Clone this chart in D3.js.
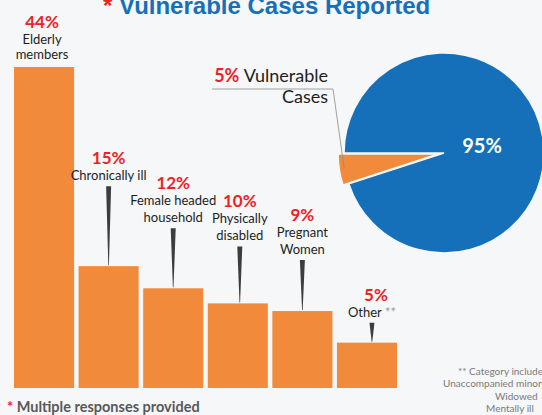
<!DOCTYPE html>
<html>
<head>
<meta charset="utf-8">
<script src="https://cdn.jsdelivr.net/npm/d3@7"></script>
<style>
  body { margin: 0; background: #f5f7f8; overflow: hidden; }
  text { font-family: Lato, "Open Sans", sans-serif; }
</style>
</head>
<body>
<script>
// data
const categories = ["Elderly members", "Chronically ill", "Female headed household", "Physically disabled", "Pregnant Women", "Other"];
const labelLines = [["Elderly", "members"], ["Chronically ill"], ["Female headed", "household"], ["Physically", "disabled"], ["Pregnant", "Women"], ["Other"]];
const values = [44, 15, 12, 10, 9, 5];
const pieNames = ["Not vulnerable", "Vulnerable Cases"];
const pieValues = [95, 5];
const notes = ["** Category includes", "Unaccompanied minors,", "Widowed", "Mentally ill"];

// callout layout (pointer length above each bar, horizontal nudge)
const calloutLen = [0, 80, 60, 57, 51, 20];
const calloutDx = [-2, 0, 0, 2, 0, 5];

const width = 542, height = 415;
const orange = "#f28a3c", blue = "#1570b9", red = "#ec2227";

const svg = d3.select("body").append("svg")
  .attr("width", width)
  .attr("height", height);

svg.append("rect").attr("width", width).attr("height", height).attr("fill", "#f5f7f8");

// title
const title = svg.append("text")
  .attr("x", 103).attr("y", 14)
  .style("font-family", "'Liberation Sans', Arial, sans-serif")
  .style("font-weight", "bold").style("font-size", "24px");
title.append("tspan").attr("fill", red).text("* ");
title.append("tspan").attr("fill", blue).text("Vulnerable Cases Reported");

// scales
const x = d3.scaleBand().domain(categories).range([14, 397]).paddingInner(0.07);
const y = d3.scalePow().exponent(0.9).domain([0, 44]).range([388, 67]);

// bars
svg.append("g").selectAll("rect")
  .data(values)
  .join("rect")
  .attr("x", (d, i) => x(categories[i]))
  .attr("y", d => y(d))
  .attr("width", x.bandwidth())
  .attr("height", d => y(0) - y(d))
  .attr("fill", orange);

// callouts
values.forEach((v, i) => {
  const cx = x(categories[i]) + x.bandwidth() / 2 + calloutDx[i];
  const top = y(v);
  const st = top - calloutLen[i];
  const g = svg.append("g");
  if (calloutLen[i] > 0) {
    g.append("path")
      .attr("d", `M${cx - 2.5},${st} L${cx + 2.5},${st} L${cx + 0.3},${top - 1} L${cx - 0.3},${top - 1} Z`)
      .attr("fill", "#3d3d3f");
  }
  const lines = labelLines[i];
  const gap = calloutLen[i] > 0 ? 6 : 8;
  const spacing = calloutLen[i] > 0 ? 17 : 15;
  const lastY = st - gap;
  lines.forEach((l, j) => {
    const t = g.append("text")
      .attr("x", cx)
      .attr("y", lastY - (lines.length - 1 - j) * spacing)
      .attr("text-anchor", "middle")
      .attr("fill", "#1e1e1e")
      .style("font-size", "13px")
      .text(l);
    if (i === 5) {
      t.append("tspan").attr("fill", "#9a9a9a").text(" **");
    }
  });
  g.append("text")
    .attr("x", cx + (i === 5 ? 4 : 0))
    .attr("y", lastY - (lines.length - 1) * spacing - 16)
    .attr("text-anchor", "middle")
    .attr("fill", red)
    .style("font-size", "17px").style("font-weight", "bold")
    .text(v + "%");
});

// pie
const cx = 444, cy = 153, r = 100, explode = 6;
const pie = d3.pie().sort(null).startAngle(-Math.PI / 2).endAngle(Math.PI * 1.5);
const arcs = pie(pieValues);
const arc = d3.arc().innerRadius(0).outerRadius(r);
const pg = svg.append("g").attr("transform", `translate(${cx},${cy})`);

pg.selectAll("path")
  .data(arcs)
  .join("path")
  .attr("d", arc)
  .attr("transform", (d, i) => {
    if (i === 0) return null;
    const a = (d.startAngle + d.endAngle) / 2;
    return `translate(${Math.sin(a) * explode},${-Math.cos(a) * explode})`;
  })
  .attr("fill", (d, i) => i === 0 ? blue : orange)
  .attr("stroke", "#f5f7f8")
  .attr("stroke-width", 1.5);

pg.append("text")
  .attr("x", 38).attr("y", 0)
  .attr("text-anchor", "middle")
  .attr("fill", "#fff")
  .style("font-size", "20px").style("font-weight", "bold")
  .text(pieValues[0] + "%");

// leader line for vulnerable slice
const s = arcs[1];
const a1 = (s.startAngle + s.endAngle) / 2;
const p = d3.arc().innerRadius(r * 0.95).outerRadius(r * 0.95).centroid(s);
const px = cx + p[0] + Math.sin(a1) * explode, py = cy + p[1] - Math.cos(a1) * explode;
svg.append("path")
  .attr("d", `M${px},${py} L333,89 L212,89`)
  .attr("fill", "none")
  .attr("stroke", "#8a8a8a")
  .attr("stroke-width", 0.8);

const lab = svg.append("text").attr("x", 328).attr("y", 82).attr("text-anchor", "end").style("font-size", "18px");
lab.append("tspan").attr("fill", red).style("font-weight", "bold").text(pieValues[1] + "% ");
lab.append("tspan").attr("fill", "#1e1e1e").text("Vulnerable");
svg.append("text").attr("x", 328).attr("y", 103).attr("text-anchor", "end")
  .attr("fill", "#1e1e1e").style("font-size", "18px").text("Cases");

// footnotes
const fn = svg.append("text").attr("x", 7).attr("y", 412).style("font-size", "14.5px").style("font-weight", "bold");
fn.append("tspan").attr("fill", red).text("* ");
fn.append("tspan").attr("fill", "#595959").text("Multiple responses provided");

const noteX = [458, 443, 495, 486];
notes.forEach((n, i) => {
  svg.append("text")
    .attr("x", noteX[i]).attr("y", 375 + i * 12.3)
    .attr("fill", "#7a7a7a")
    .style("font-size", "10px")
    .text(n);
});
</script>
</body>
</html>
